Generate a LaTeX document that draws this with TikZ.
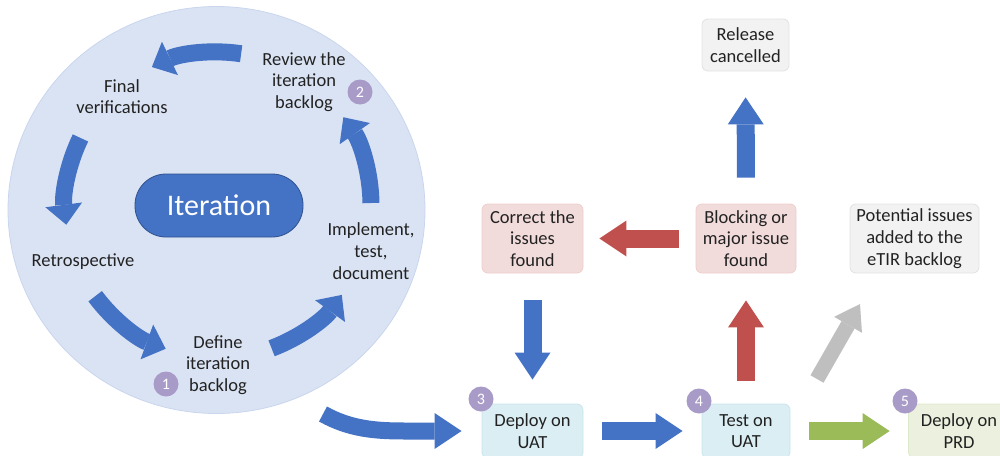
\documentclass[tikz,border=0pt]{standalone}
\usepackage{fontspec}
\setmainfont{Carlito}
\usetikzlibrary{arrows.meta,shapes.geometric}
\definecolor{circfill}{HTML}{DAE3F3}
\definecolor{circline}{HTML}{C9D6EE}
\definecolor{mblue}{HTML}{4472C4}
\definecolor{mbluedk}{HTML}{2F528F}
\definecolor{mred}{HTML}{C0504D}
\definecolor{mgreen}{HTML}{9BBB59}
\definecolor{mgrey}{HTML}{BFBFBF}
\definecolor{badgec}{HTML}{A99BC7}
\definecolor{pinkfill}{HTML}{F2DCDB}
\definecolor{pinkline}{HTML}{EFCDCC}
\definecolor{cyanfill}{HTML}{DBEEF4}
\definecolor{cyanline}{HTML}{C9E5EE}
\definecolor{greenfill}{HTML}{EBF1DE}
\definecolor{greenline}{HTML}{DDE7C9}
\definecolor{greyfill}{HTML}{F2F2F2}
\definecolor{greyline}{HTML}{E2E2E2}
\definecolor{txt}{HTML}{222222}
\tikzset{
  lbl/.style={align=center, inner sep=0pt, text=txt, font=\fontsize{18.5}{21.7}\selectfont},
  box/.style={lbl, rounded corners=6pt, line width=0.8pt},
  badge/.style={circle, fill=badgec, text=white, minimum size=25pt, inner sep=0pt, font=\fontsize{16}{16}\selectfont},
  cyc/.style={draw=mblue, line width=17pt, -{Triangle[width=37pt,length=20pt,line width=0pt]}},
  blk/.style={line width=18pt, -{Triangle[width=36pt,length=27pt,line width=0pt]}},
}
\begin{document}
\begin{tikzpicture}[x=1pt,y=-1pt]
\useasboundingbox (0,0) rectangle (1000,455);
\clip (0,0) rectangle (1000,455);
% big circle
\node[ellipse, fill=circfill, draw=circline, line width=0.8pt, minimum width=417pt, minimum height=407pt, inner sep=0pt] (ring) at (216.5,210) {};
\node[rectangle, rounded corners=31pt, fill=mblue, draw=mbluedk, line width=0.8pt, minimum width=168pt, minimum height=63pt, text=white, font=\fontsize{30}{36}\selectfont] (iter) at (219,205.5) {Iteration};
% cycle labels
\node[lbl] (review) at (304,82) {Review the\\iteration\\backlog};
\node[lbl] (final) at (122,96.5) {Final\\verifications};
\node[lbl] (retro) at (83,262) {Retrospective};
\node[lbl] (define) at (218,365) {Define\\iteration\\backlog};
\node[lbl] (impl) at (371,251) {Implement,\\test,\\document};
% cycle arrows
\coordinate (cyc) at (218,205);
\draw[cyc] (cyc) ++(290.5:153pt) arc[start angle=290.5, end angle=324, radius=153pt];
\draw[cyc] (cyc) ++(0.75:153pt) arc[start angle=0.75, end angle=35, radius=153pt];
\draw[cyc] (cyc) ++(81.3:153pt) arc[start angle=81.3, end angle=115.6, radius=153pt];
\draw[cyc] (cyc) ++(154:153pt) arc[start angle=154, end angle=187.4, radius=153pt];
\draw[cyc] (cyc) ++(216.6:153pt) arc[start angle=216.6, end angle=250, radius=153pt];
% boxes
\node[box, fill=pinkfill, draw=pinkline, minimum width=101pt, minimum height=69pt] (correct) at (532.5,238.5) {Correct the\\issues\\found};
\node[box, fill=pinkfill, draw=pinkline, minimum width=100pt, minimum height=69pt] (blocking) at (746,238.5) {Blocking or\\major issue\\found};
\node[box, fill=greyfill, draw=greyline, minimum width=129pt, minimum height=69pt] (potential) at (914.5,238.5) {Potential issues\\added to the\\eTIR backlog};
\node[box, fill=greyfill, draw=greyline, minimum width=87pt, minimum height=52pt] (release) at (745.5,45) {Release\\cancelled};
\node[box, fill=cyanfill, draw=cyanline, minimum width=101pt, minimum height=54pt] (deploy) at (532.5,431) {Deploy on\\UAT};
\node[box, fill=cyanfill, draw=cyanline, minimum width=88pt, minimum height=54pt] (test) at (746,431) {Test on\\UAT};
\node[box, fill=greenfill, draw=greenline, minimum width=101pt, minimum height=54pt] (prd) at (959,431) {Deploy on\\PRD};
% badges
\node[badge] (b1) at (166,384) {1};
\node[badge] (b2) at (360,92) {2};
\node[badge] (b3) at (481,399) {3};
\node[badge] (b4) at (699,401) {4};
\node[badge] (b5) at (905,401) {5};
% arrows
\coordinate (cs) at (323,414);
\draw[blk, draw=mblue, line width=17pt, shorten >=20pt] (cs) .. controls (350,429) and (375,431) .. (405,431) -- (deploy.west);
\draw[blk, draw=mblue, shorten <=27pt, shorten >=24pt] (correct.south) -- (deploy.north);
\draw[blk, draw=mred, shorten <=17pt, shorten >=16pt] (blocking.west) -- (correct.east);
\draw[blk, draw=mred, shorten <=23pt, shorten >=27pt] (test.north) -- (blocking.south);
\draw[blk, draw=mblue, shorten <=26pt, shorten >=26pt] (blocking.north) -- (release.south);
\draw[blk, draw=mblue, shorten <=19pt, shorten >=19pt] (deploy.east) -- (test.west);
\draw[blk, draw=mgreen, shorten <=19pt, shorten >=18.5pt] (test.east) -- (prd.west);
\coordinate (g1) at (817,379);
\coordinate (g2) at (860,304);
\draw[draw=mgrey, line width=15pt, -{Triangle[width=32pt,length=24pt,line width=0pt]}] (g1) -- (g2);
\end{tikzpicture}
\end{document}
